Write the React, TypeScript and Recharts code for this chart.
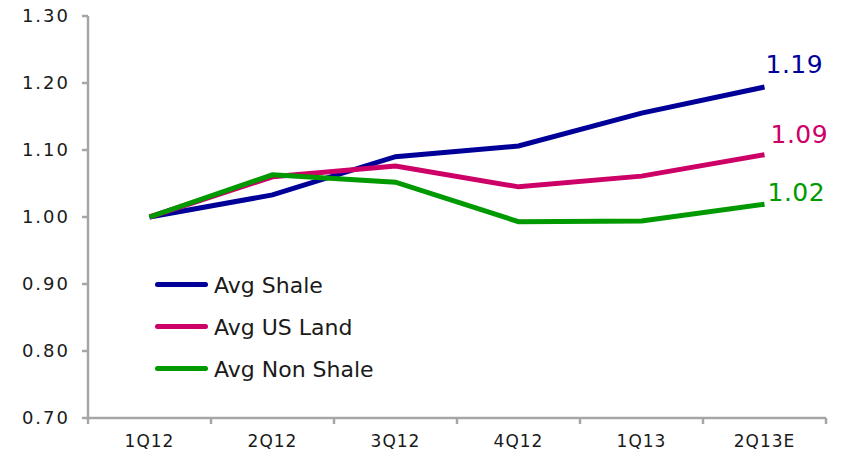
import { LineChart, Line, XAxis, YAxis, LabelList } from 'recharts'

const quarters = ['1Q12', '2Q12', '3Q12', '4Q12', '1Q13', '2Q13E']
const avgShale = [1.0, 1.033, 1.09, 1.106, 1.155, 1.194]
const avgUsLand = [1.0, 1.06, 1.076, 1.045, 1.061, 1.093]
const avgNonShale = [1.0, 1.063, 1.052, 0.993, 0.994, 1.019]
const endLabels = ['1.19', '1.09', '1.02']
const yTicks = [0.7, 0.8, 0.9, 1.0, 1.1, 1.2, 1.3]

// category i sits in the middle of band [i, i+1]; tick marks go on the band edges
const xBounds = [0, ...quarters.map((_, i) => i + 1)]
const xCenters = quarters.map((_, i) => i + 0.5)

const data = quarters.map((q, i) => ({
  q,
  pos: xCenters[i],
  shale: avgShale[i],
  land: avgUsLand[i],
  nonShale: avgNonShale[i],
}))

const FONT = '"DejaVu Sans", Verdana, sans-serif'
const AXIS = '#A6A6A6'

const series = [
  { key: 'shale', name: 'Avg Shale', color: '#000099', label: endLabels[0], dx: 1, dy: -14 },
  { key: 'land', name: 'Avg US Land', color: '#CC0066', label: endLabels[1], dx: 6, dy: -12 },
  { key: 'nonShale', name: 'Avg Non Shale', color: '#009900', label: endLabels[2], dx: 3, dy: -3 },
]

const last = quarters.length - 1

function endLabel(text: string, color: string, dx: number, dy: number) {
  return (props: any) => {
    if (props.index !== last) return null
    return (
      <text x={Number(props.x) + dx} y={Number(props.y) + dy} fill={color}
        fontSize={25} fontFamily={FONT} textAnchor="start" letterSpacing={0.5}>
        {text}
      </text>
    )
  }
}

function LegendBox() {
  return (
    <div style={{ position: 'absolute', left: 155, top: 263, fontFamily: FONT }}>
      {series.map(s => (
        <div key={s.key} style={{ display: 'flex', alignItems: 'center', height: 42 }}>
          <span style={{ width: 53, height: 5, borderRadius: 3, background: s.color, marginRight: 6 }} />
          <span style={{ fontSize: 22, color: '#1a1a1a', lineHeight: '22px', marginTop: 4 }}>{s.name}</span>
        </div>
      ))}
    </div>
  )
}

export default function App() {
  return (
    <div style={{ position: 'absolute', left: 0, top: 0, width: 848, height: 465, background: '#fff' }}>
      <LineChart width={848} height={465} data={data} margin={{ top: 16, right: 22, left: 0, bottom: 0 }}>
        <XAxis xAxisId="a_ticks" type="number" dataKey="pos" domain={[0, quarters.length]} ticks={xBounds}
          tickFormatter={() => ''} height={8} tickSize={6}
          axisLine={{ stroke: AXIS, strokeWidth: 2.5 }} tickLine={{ stroke: AXIS, strokeWidth: 2.5 }} />
        <XAxis xAxisId="b_labels" type="number" dataKey="pos" domain={[0, quarters.length]} ticks={xCenters}
          tickFormatter={(v: number) => quarters[Math.floor(v)]} interval={0}
          axisLine={false} tickLine={false} height={39} tickSize={0} tickMargin={9}
          tick={{ fill: '#1a1a1a', fontSize: 17, fontFamily: FONT, letterSpacing: 1 }} />
        <YAxis domain={[0.7, 1.3]} ticks={yTicks} width={88} tickSize={6} tickMargin={12}
          tickFormatter={(v: number) => v.toFixed(2)}
          axisLine={{ stroke: AXIS, strokeWidth: 2.5 }} tickLine={{ stroke: AXIS, strokeWidth: 2.5 }}
          tick={{ fill: '#1a1a1a', fontSize: 18, fontFamily: FONT, letterSpacing: 2 }} />
        {series.map(s => (
          <Line key={s.key} xAxisId="a_ticks" type="linear" dataKey={s.key} name={s.name}
            stroke={s.color} strokeWidth={5} dot={false} activeDot={false}
            isAnimationActive={false}>
            <LabelList dataKey={s.key} content={endLabel(s.label, s.color, s.dx, s.dy)} />
          </Line>
        ))}
      </LineChart>
      <LegendBox />
    </div>
  )
}
